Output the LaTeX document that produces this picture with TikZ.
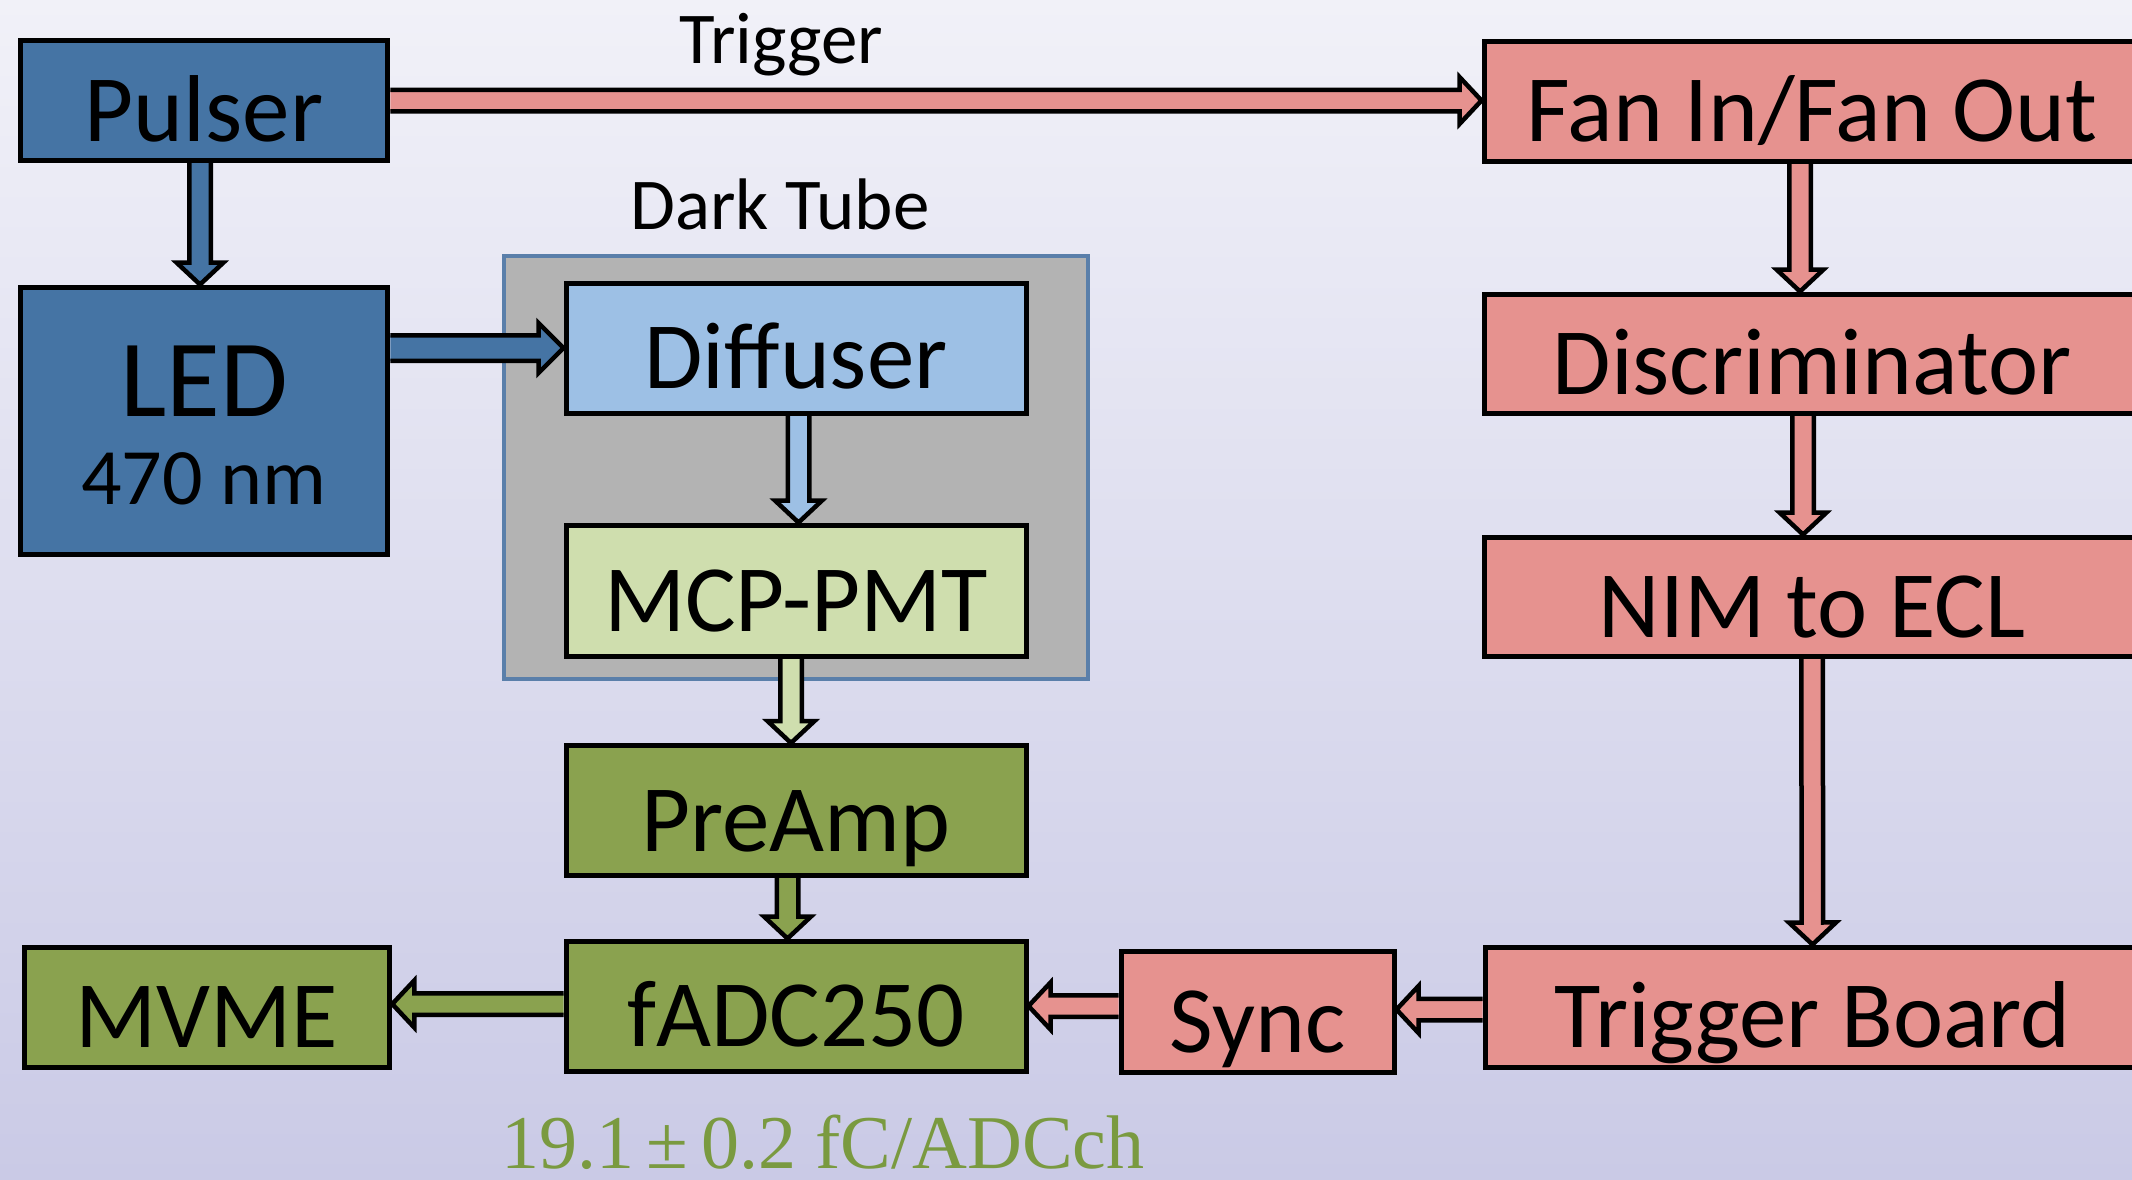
\documentclass[tikz,border=0pt]{standalone}
\usepackage{fontspec}
\setmainfont{Carlito}
\newfontfamily\serifnum{Liberation Serif}
\usetikzlibrary{calc}

\definecolor{pulseblue}{HTML}{4574A4}
\definecolor{diffblue}{HTML}{9DC0E5}
\definecolor{pmtgreen}{HTML}{CFDEAE}
\definecolor{daqgreen}{HTML}{8AA24F}
\definecolor{trigpink}{HTML}{E6928F}
\definecolor{tubegray}{HTML}{B3B3B3}
\definecolor{tubeedge}{HTML}{5A7FAA}
\definecolor{bgtop}{HTML}{F1F1F8}
\definecolor{bgbot}{HTML}{CACAE6}
\definecolor{calgreen}{HTML}{7A9A40}

\pgfdeclarelayer{back}
\pgfdeclarelayer{links}
\pgfsetlayers{back,links,main}

% block-arrow geometry: shaft half width, head half width, head length
\newcommand\arrsw{10.75pt}
\newcommand\arrhw{23.5pt}
\newcommand\arrhl{22pt}

% outlined block arrow from tail point #2 to tip point #3, filled with #1
\newcommand\blockarrow[3]{%
  \path #2 coordinate (ba-t) #3 coordinate (ba-h);
  \path ($(ba-h)!\arrhl!(ba-t)$) coordinate (ba-b);
  \fill[#1]
    ($(ba-t)!\arrsw!90:(ba-h)$) -- ($(ba-b)!\arrsw!90:(ba-h)$) --
    ($(ba-b)!\arrhw!90:(ba-h)$) -- (ba-h) --
    ($(ba-b)!\arrhw!-90:(ba-h)$) -- ($(ba-b)!\arrsw!-90:(ba-h)$) --
    ($(ba-t)!\arrsw!-90:(ba-h)$) -- cycle;
  \draw[flow]
    ($(ba-t)!\arrsw!90:(ba-h)$) -- ($(ba-b)!\arrsw!90:(ba-h)$) --
    ($(ba-b)!\arrhw!90:(ba-h)$) -- (ba-h) --
    ($(ba-b)!\arrhw!-90:(ba-h)$) -- ($(ba-b)!\arrsw!-90:(ba-h)$) --
    ($(ba-t)!\arrsw!-90:(ba-h)$);
}

\tikzset{
  box/.style={draw=black, line width=5pt, inner sep=0pt,
    text height=97pt, text depth=16pt, font=\fontsize{95}{110}\selectfont},
  flow/.style={draw=black, line width=4.5pt, line join=miter, miter limit=10},
  caption/.style={inner sep=0pt, anchor=base, font=\fontsize{73}{80}\selectfont},
}

\begin{document}
\begin{tikzpicture}[x=1pt, y=-1pt]
\useasboundingbox (0,0) rectangle (2132,1179);

\begin{pgfonlayer}{back}
  \shade[top color=bgtop, bottom color=bgbot] (0,0) rectangle (2132,1179);
  \node[draw=tubeedge, line width=4pt, fill=tubegray, inner sep=0pt,
        minimum width=583.5pt, minimum height=423pt] (tube) at (796,467.5) {};
\end{pgfonlayer}

% captions
\node[caption] (trglbl) at (781,63) {Trigger};
\node[caption] (tubelbl) at (780,229.6) {Dark Tube};

% light source
\node[box, fill=pulseblue, minimum width=367.5pt, minimum height=120pt] (pul) at (204,100.5) {Pulser};
\node[box, fill=pulseblue, minimum width=367.5pt, minimum height=267pt] (led) at (204,420.5) {};
\node[inner sep=0pt, anchor=base, font=\fontsize{110}{120}\selectfont] (ledname) at (204,416) {LED};
\node[inner sep=0pt, anchor=base, font=\fontsize{80}{90}\selectfont] (ledwave) at (204,504) {470 nm};

% dark tube contents and readout chain
\node[box, fill=diffblue, minimum width=460pt, minimum height=130pt] (diff) at (796,348) {Diffuser};
\node[box, fill=pmtgreen, minimum width=460pt, minimum height=131pt] (pmt) at (796,590.5) {MCP-PMT};
\node[box, fill=daqgreen, minimum width=460pt, minimum height=130pt] (pre) at (796,810.5) {PreAmp};
\node[box, fill=daqgreen, minimum width=460pt, minimum height=130pt] (fadc) at (796,1006) {fADC250};
\node[box, fill=daqgreen, minimum width=365.5pt, minimum height=120pt] (mvme) at (207,1007) {MVME};

% trigger chain
\node[box, fill=trigpink, minimum width=656pt, minimum height=120pt] (fan) at (1812,101) {Fan In/Fan Out};
\node[box, fill=trigpink, minimum width=656pt, minimum height=119pt] (disc) at (1812,353.5) {Discriminator};
\node[box, fill=trigpink, minimum width=656pt, minimum height=119pt] (nim) at (1812,596.5) {NIM to ECL};
\node[box, fill=trigpink, minimum width=655pt, minimum height=120pt] (trig) at (1812.5,1007) {Trigger Board};
\node[box, fill=trigpink, minimum width=273pt, minimum height=121pt] (sync) at (1257.5,1011.5) {Sync};

% calibration
\node[inner sep=0pt, anchor=base west, text=calgreen,
      font=\serifnum\fontsize{76}{80}\selectfont] (cal) at (501,1168) {19.1\,±\,0.2 fC/ADCch};

\begin{pgfonlayer}{links}
  \blockarrow{pulseblue}{($(pul.south)+(-4,0)$)}{($(led.north)+(-4,0)$)}
  \blockarrow{trigpink}{(pul.east)}{(pul.east -| fan.west)}
  {\renewcommand\arrsw{12.75pt}\renewcommand\arrhw{25pt}\renewcommand\arrhl{25pt}%
   \blockarrow{pulseblue}{(led.east |- diff.west)}{(diff.west)}}
  \blockarrow{diffblue}{($(diff.south)+(2.5,0)$)}{($(pmt.north)+(2.5,0)$)}
  \blockarrow{pmtgreen}{($(pmt.south)+(-5,0)$)}{($(pre.north)+(-5,0)$)}
  \blockarrow{daqgreen}{($(pre.south)+(-8.5,0)$)}{($(fadc.north)+(-8.5,0)$)}
  \blockarrow{daqgreen}{($(fadc.west)+(0,-2)$)}{($(fadc.west -| mvme.east)+(0,-2)$)}
  \blockarrow{trigpink}{(fadc.east -| sync.west)}{(fadc.east)}
  \blockarrow{trigpink}{($(trig.west)+(0,2.5)$)}{($(trig.west -| sync.east)+(0,2.5)$)}
  \blockarrow{trigpink}{($(fan.south)+(-12,0)$)}{($(disc.north)+(-12,0)$)}
  \blockarrow{trigpink}{($(disc.south)+(-9,0)$)}{($(nim.north)+(-9,0)$)}
  \blockarrow{trigpink}{(nim.south)}{(trig.north)}
\end{pgfonlayer}
\end{tikzpicture}
\end{document}
